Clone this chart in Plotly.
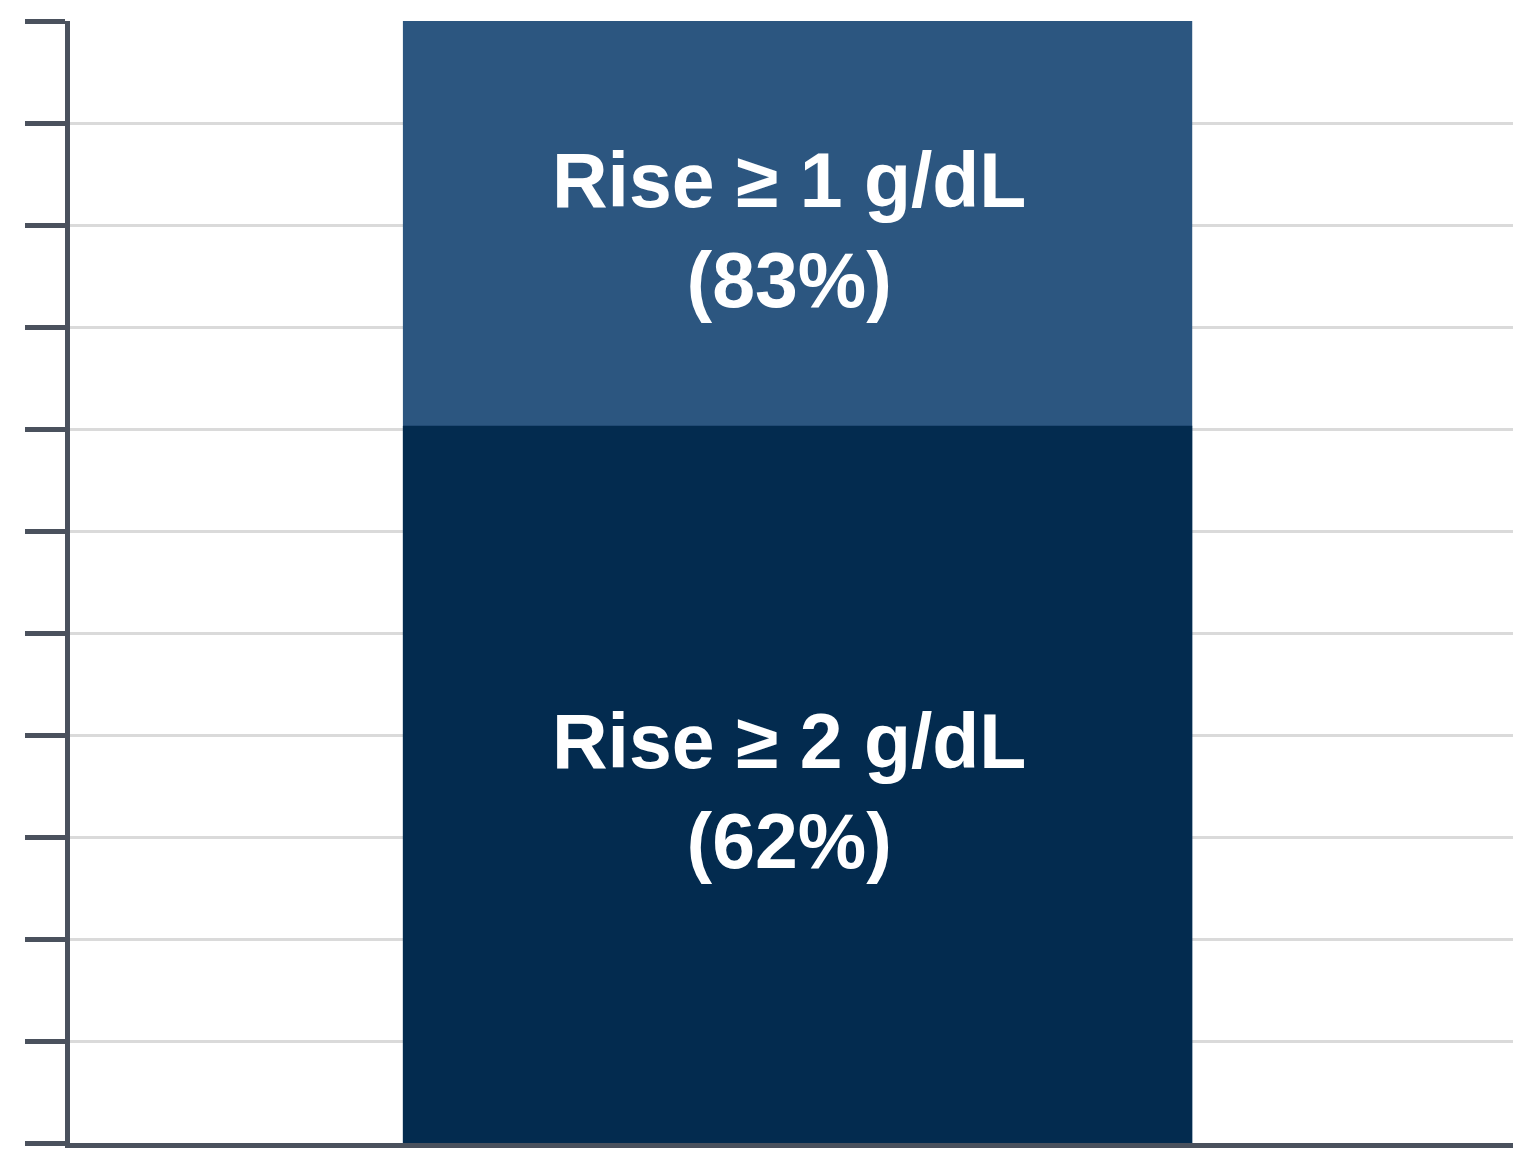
import plotly.graph_objects as go

# Share of patients by haemoglobin rise threshold (%)
categories = ["Hb response"]
labels = ["Rise ≥ 1 g/dL", "Rise ≥ 2 g/dL"]
values = [83, 62]
colors = ["#2c5680", "#032b4f"]

# Visible window of the value axis (lower bound chosen so both segments fit the frame)
y_hi = max(values)
y_lo = 24.8
n_intervals = 11
step = (y_hi - y_lo) / n_intervals
tick_vals = [y_lo + i * step for i in range(n_intervals + 1)]

fig = go.Figure()
for lab, val, col in zip(labels, values, colors):
    fig.add_trace(go.Bar(
        x=[0], y=[val], name=lab,
        marker=dict(color=col, line=dict(width=0)),
        width=0.547, hoverinfo="skip",
    ))

# Labels centred in the visible part of each segment
y_mid_top = (values[0] + values[1]) / 2
y_mid_bottom = (values[1] + y_lo) / 2
for lab, val, ypos in zip(labels, values, [y_mid_top, y_mid_bottom]):
    fig.add_annotation(
        x=0, y=ypos, xref="x", yref="y",
        text=f"{lab}<br>({val}%)", showarrow=False,
        xshift=-9, yshift=-7,
        font=dict(family="Liberation Sans, Arial, sans-serif", size=77,
                  color="white", weight="bold"),
        align="center",
    )

axis_col = "#4a515d"
fig.update_layout(
    barmode="overlay",
    width=1513, height=1166,
    margin=dict(l=70, r=0, t=21, b=23),
    paper_bgcolor="white", plot_bgcolor="white",
    showlegend=False,
    xaxis=dict(
        range=[-0.5042, 0.4958], showgrid=False, zeroline=False,
        showticklabels=False, ticks="",
        showline=True, linecolor=axis_col, linewidth=5,
    ),
    yaxis=dict(
        range=[y_lo, y_hi], tickmode="array", tickvals=tick_vals,
        showticklabels=False, ticks="outside", ticklen=40, tickwidth=5,
        tickcolor=axis_col, showline=True, linecolor=axis_col, linewidth=5,
        showgrid=True, gridcolor="#dadada", gridwidth=3, zeroline=False,
    ),
)

fig.write_html("out.html")
